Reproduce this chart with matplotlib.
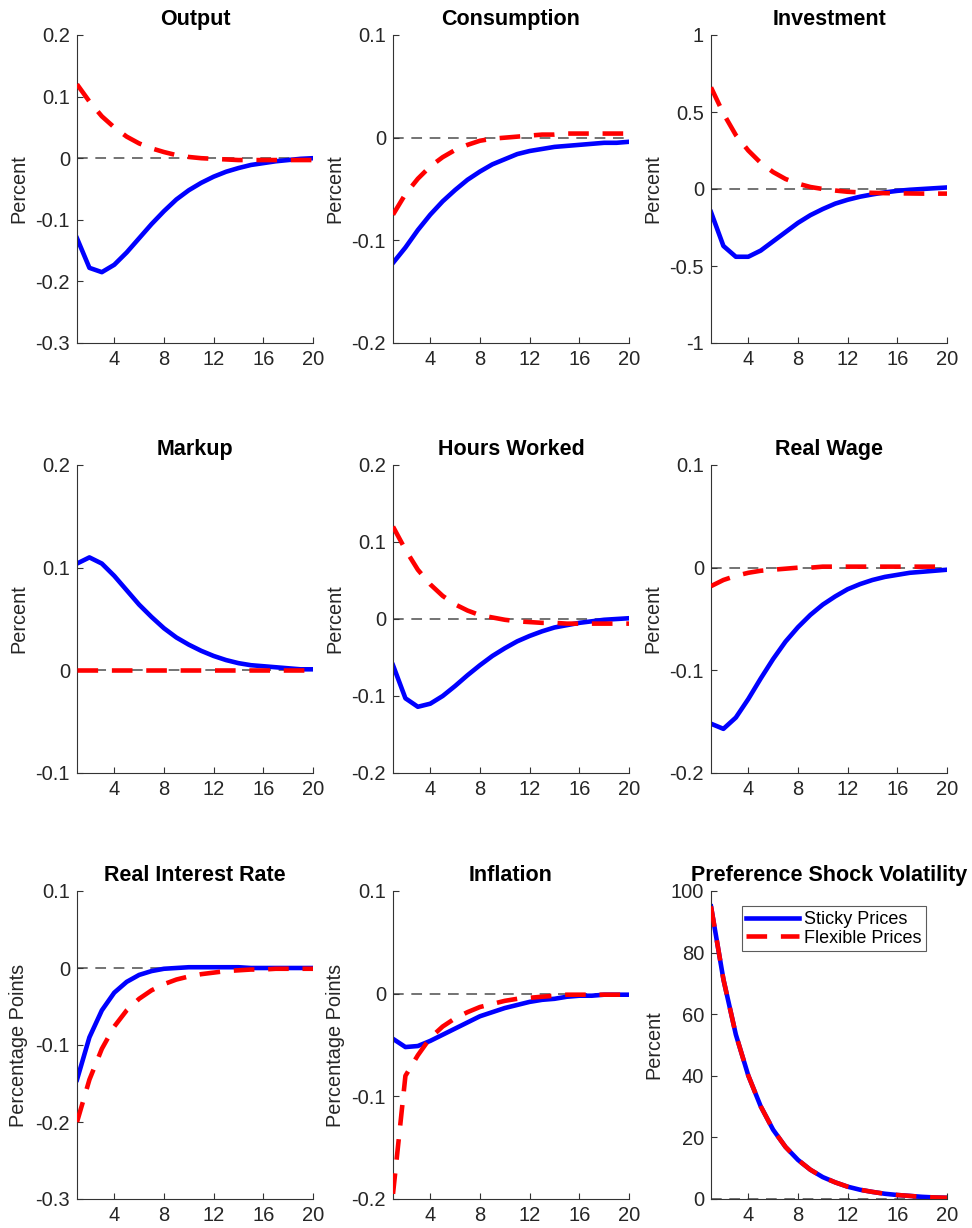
import numpy as np
import matplotlib
matplotlib.use("Agg")
import matplotlib.pyplot as plt
from matplotlib.ticker import FuncFormatter

plt.rcParams['font.family'] = ['Liberation Sans', 'DejaVu Sans']
plt.rcParams['axes.unicode_minus'] = False

quarters = list(range(1, 21))

titles = ['Output', 'Consumption', 'Investment',
          'Markup', 'Hours Worked', 'Real Wage',
          'Real Interest Rate', 'Inflation', 'Preference Shock Volatility']
ylabels = ['Percent', 'Percent', 'Percent',
           'Percent', 'Percent', 'Percent',
           'Percentage Points', 'Percentage Points', 'Percent']

# impulse responses, sticky prices
output_sticky = [-0.130, -0.178, -0.185, -0.173, -0.153, -0.130, -0.107, -0.086, -0.067, -0.052,
                 -0.040, -0.030, -0.022, -0.016, -0.011, -0.008, -0.005, -0.003, -0.001, 0.000]
cons_sticky = [-0.122, -0.107, -0.090, -0.075, -0.062, -0.051, -0.041, -0.033, -0.026, -0.021,
               -0.016, -0.013, -0.011, -0.009, -0.008, -0.007, -0.006, -0.005, -0.005, -0.004]
inv_sticky = [-0.15, -0.37, -0.44, -0.44, -0.40, -0.34, -0.28, -0.22, -0.17, -0.13,
              -0.095, -0.070, -0.050, -0.035, -0.022, -0.012, -0.005, 0.000, 0.005, 0.010]
markup_sticky = [0.104, 0.110, 0.104, 0.092, 0.078, 0.064, 0.052, 0.041, 0.032, 0.025,
                 0.019, 0.014, 0.010, 0.007, 0.005, 0.004, 0.003, 0.002, 0.001, 0.001]
hours_sticky = [-0.060, -0.103, -0.114, -0.110, -0.100, -0.087, -0.073, -0.060, -0.048, -0.038,
                -0.029, -0.022, -0.016, -0.011, -0.008, -0.005, -0.003, -0.001, 0.000, 0.001]
wage_sticky = [-0.152, -0.157, -0.146, -0.128, -0.108, -0.089, -0.072, -0.058, -0.046, -0.036,
               -0.028, -0.021, -0.016, -0.012, -0.009, -0.007, -0.005, -0.004, -0.003, -0.002]
rate_sticky = [-0.145, -0.090, -0.055, -0.032, -0.018, -0.009, -0.004, -0.001, 0.000, 0.001,
               0.001, 0.001, 0.001, 0.001, 0.000, 0.000, 0.000, 0.000, 0.000, 0.000]
infl_sticky = [-0.044, -0.052, -0.051, -0.046, -0.040, -0.034, -0.028, -0.022, -0.018, -0.014,
               -0.011, -0.008, -0.006, -0.005, -0.003, -0.002, -0.002, -0.001, -0.001, -0.001]
vol_sticky = [95.0, 71.3, 53.4, 40.1, 30.1, 22.5, 16.9, 12.7, 9.5, 7.1,
              5.4, 4.0, 3.0, 2.3, 1.7, 1.3, 1.0, 0.7, 0.5, 0.4]

# impulse responses, flexible prices
output_flex = [0.120, 0.092, 0.068, 0.050, 0.035, 0.024, 0.016, 0.010, 0.005, 0.002,
               0.000, -0.001, -0.002, -0.003, -0.003, -0.003, -0.003, -0.003, -0.003, -0.003]
cons_flex = [-0.075, -0.055, -0.040, -0.028, -0.019, -0.012, -0.007, -0.003, -0.001, 0.000,
             0.001, 0.002, 0.003, 0.003, 0.004, 0.004, 0.004, 0.004, 0.004, 0.004]
inv_flex = [0.66, 0.49, 0.35, 0.25, 0.17, 0.11, 0.065, 0.035, 0.013, 0.000,
            -0.010, -0.018, -0.022, -0.025, -0.027, -0.028, -0.029, -0.030, -0.030, -0.030]
markup_flex = [0.0] * 20
hours_flex = [0.120, 0.090, 0.064, 0.045, 0.030, 0.019, 0.011, 0.005, 0.002, -0.001,
              -0.003, -0.004, -0.005, -0.005, -0.006, -0.006, -0.006, -0.006, -0.006, -0.006]
wage_flex = [-0.018, -0.012, -0.008, -0.005, -0.003, -0.002, -0.001, 0.000, 0.000, 0.001,
             0.001, 0.001, 0.001, 0.001, 0.001, 0.001, 0.001, 0.001, 0.001, 0.001]
rate_flex = [-0.200, -0.145, -0.105, -0.076, -0.055, -0.040, -0.029, -0.021, -0.015, -0.011,
             -0.008, -0.006, -0.004, -0.003, -0.002, -0.002, -0.001, -0.001, -0.001, -0.001]
infl_flex = [-0.195, -0.080, -0.060, -0.043, -0.032, -0.024, -0.018, -0.013, -0.010, -0.007,
             -0.005, -0.004, -0.003, -0.002, -0.001, -0.001, -0.001, -0.001, -0.001, -0.001]
vol_flex = [95.0, 71.3, 53.4, 40.1, 30.1, 22.5, 16.9, 12.7, 9.5, 7.1,
            5.4, 4.0, 3.0, 2.3, 1.7, 1.3, 1.0, 0.7, 0.5, 0.4]

sticky = [output_sticky, cons_sticky, inv_sticky, markup_sticky, hours_sticky,
          wage_sticky, rate_sticky, infl_sticky, vol_sticky]
flex = [output_flex, cons_flex, inv_flex, markup_flex, hours_flex,
        wage_flex, rate_flex, infl_flex, vol_flex]

yticks = [[-0.3, -0.2, -0.1, 0, 0.1, 0.2],
          [-0.2, -0.1, 0, 0.1],
          [-1, -0.5, 0, 0.5, 1],
          [-0.1, 0, 0.1, 0.2],
          [-0.2, -0.1, 0, 0.1, 0.2],
          [-0.2, -0.1, 0, 0.1],
          [-0.3, -0.2, -0.1, 0, 0.1],
          [-0.2, -0.1, 0, 0.1],
          [0, 20, 40, 60, 80, 100]]
xticks = [4, 8, 12, 16, 20]

fig = plt.figure(figsize=(9.72, 12.28), dpi=100)
W, H = 972.0, 1228.0
col_left = [77, 393, 711]
ax_w = 236
row_top = [35, 465, 891]
ax_h = 308

fmt = FuncFormatter(lambda v, p: '%g' % v)

for i in range(9):
    r, c = divmod(i, 3)
    ax = fig.add_axes([col_left[c] / W, 1 - (row_top[r] + ax_h) / H, ax_w / W, ax_h / H])
    ax.axhline(0, color='0.3', lw=1.1, ls=(0, (7, 5)), zorder=1)
    ax.plot(quarters, sticky[i], color='#0000ff', lw=3.3, label='Sticky Prices', zorder=2)
    ax.plot(quarters, flex[i], color='#ff0000', lw=3.3, ls=(0, (4.5, 3)),
            label='Flexible Prices', zorder=3)
    ax.set_xlim(1, 20)
    ax.set_ylim(yticks[i][0], yticks[i][-1])
    ax.set_xticks(xticks)
    ax.set_yticks(yticks[i])
    ax.yaxis.set_major_formatter(fmt)
    ax.spines['top'].set_visible(False)
    ax.spines['right'].set_visible(False)
    for s in ['left', 'bottom']:
        ax.spines[s].set_color('0.2')
        ax.spines[s].set_linewidth(0.8)
    ax.tick_params(direction='in', length=4, width=0.8, colors='0.2',
                   labelsize=14.5, labelcolor='0.15', pad=5)
    ax.set_title(titles[i], fontsize=15.5, fontweight='bold', pad=7)
    ax.set_ylabel(ylabels[i], fontsize=14.3, color='0.15', labelpad=5)
    if i == 8:
        leg = ax.legend(loc='upper left', bbox_to_anchor=(0.13, 0.95), fontsize=13,
                        frameon=True, fancybox=False, edgecolor='0.2',
                        handlelength=2.9, borderpad=0.25, labelspacing=0.1,
                        handletextpad=0.3, borderaxespad=0)
        leg.get_frame().set_linewidth(0.8)

fig.savefig('out.png', dpi=100)
